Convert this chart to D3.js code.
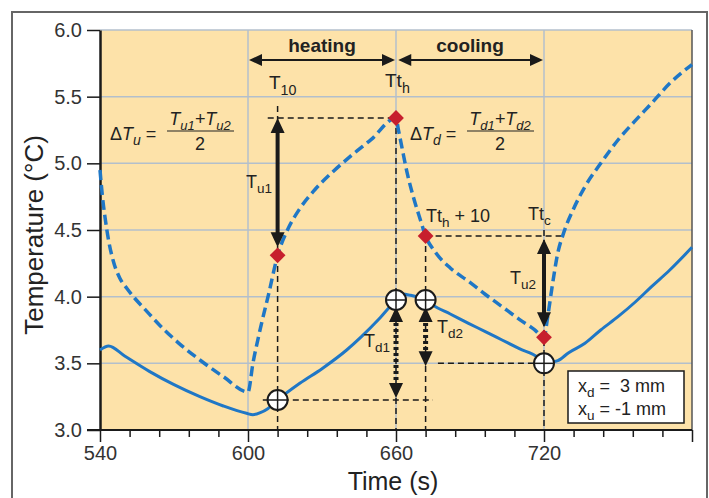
<!DOCTYPE html>
<html>
<head>
<meta charset="utf-8">
<script src="https://cdn.jsdelivr.net/npm/d3@7"></script>
<style>
  body { margin: 0; background: #fff; }
  svg { display: block; font-family: Arial, "Liberation Sans", Helvetica, sans-serif; }
</style>
</head>
<body>
<div id="chart"></div>
<script>
// axis values
const timeLabels = [540, 600, 660, 720];
const timeMajor = [540, 600, 660, 720, 780];
const tempTicks = [3.0, 3.5, 4.0, 4.5, 5.0, 5.5, 6.0];

// measured temperature (solid)
const solidTime = [540, 543.5, 550, 560, 570, 580.5, 590, 599.4, 602, 605, 608, 612, 621, 630, 640, 646, 653, 660, 662.5, 666, 672, 675, 682, 689.4, 696, 703, 710, 717.8, 720, 725.6, 730, 736.6, 743, 750, 757, 763.6, 771, 780];
const solidTemp = [3.6, 3.63, 3.555, 3.44, 3.34, 3.25, 3.18, 3.125, 3.115, 3.13, 3.16, 3.225, 3.35, 3.46, 3.6, 3.7, 3.83, 3.975, 4.02, 4.01, 3.975, 3.935, 3.87, 3.8, 3.74, 3.675, 3.61, 3.54, 3.5, 3.52, 3.58, 3.65, 3.75, 3.85, 3.96, 4.075, 4.2, 4.37];

// heater temperature (dashed)
const dashTime = [540, 541, 542, 543.5, 545.5, 548, 551, 554, 558, 564, 572, 580.5, 590, 600, 602, 605, 608.5, 612, 616, 621, 627, 634, 642, 650, 660, 661, 662.4, 664.5, 667, 670, 672, 675.7, 682, 689.4, 696, 703, 710, 716, 720, 721.5, 723.5, 725.5, 728, 732, 736.6, 743, 750, 757, 763.6, 771, 780];
const dashTemp = [4.95, 4.75, 4.6, 4.42, 4.26, 4.14, 4.06, 3.99, 3.91, 3.79, 3.65, 3.525, 3.4, 3.285, 3.5, 3.76, 4.03, 4.31, 4.5, 4.66, 4.8, 4.93, 5.06, 5.18, 5.34, 5.25, 5.12, 4.93, 4.75, 4.57, 4.455, 4.34, 4.215, 4.115, 4.02, 3.925, 3.83, 3.755, 3.695, 3.85, 4.1, 4.32, 4.48, 4.66, 4.825, 5.0, 5.175, 5.32, 5.45, 5.6, 5.74];

const diamondTime = [612, 660, 672, 720];
const diamondTemp = [4.31, 5.34, 4.455, 3.695];
const circleTime = [612, 660, 672, 720];
const circleTemp = [3.225, 3.975, 3.975, 3.5];

const width = 709, height = 498;
const blue = "#1f77c6";
const ink = "#1a1a1a";

const svg = d3.select("#chart").append("svg")
  .attr("width", width)
  .attr("height", height);

const x = d3.scaleLinear().domain([540, 780]).range([100, 692]);
const y = d3.scaleLinear().domain([3, 6]).range([430, 30]);

// outer frame
svg.append("rect")
  .attr("x", 12).attr("y", 12)
  .attr("width", 695).attr("height", 500)
  .attr("fill", "#fff")
  .attr("stroke", "#666").attr("stroke-width", 2);

// plot background
svg.append("rect")
  .attr("x", x(540)).attr("y", y(6))
  .attr("width", x(780) - x(540)).attr("height", y(3) - y(6))
  .attr("fill", "#fde2a9");

// grid
const grid = svg.append("g").attr("stroke", "#b3bfcc").attr("stroke-width", 1.5);
grid.selectAll("line.h")
  .data(tempTicks.filter(d => d > 3))
  .enter().append("line")
  .attr("x1", x(540)).attr("x2", x(780))
  .attr("y1", d => y(d)).attr("y2", d => y(d));
grid.selectAll("line.v")
  .data(timeLabels.filter(d => d > 540))
  .enter().append("line")
  .attr("x1", d => x(d)).attr("x2", d => x(d))
  .attr("y1", y(6)).attr("y2", y(3));

// right border of plot
svg.append("line")
  .attr("x1", x(780)).attr("x2", x(780))
  .attr("y1", y(6)).attr("y2", y(3))
  .attr("stroke", "#555").attr("stroke-width", 1.5);

// axes
const xAxis = svg.append("g")
  .attr("transform", `translate(0,${y(3)})`)
  .call(d3.axisBottom(x)
    .tickValues(d3.range(540, 781, 12))
    .tickSize(7)
    .tickSizeOuter(0)
    .tickFormat(d => timeLabels.includes(d) ? d : ""));
xAxis.selectAll(".tick line")
  .attr("y2", d => timeMajor.includes(d) ? 12 : 7)
  .attr("stroke", ink).attr("stroke-width", 1.5);
xAxis.selectAll(".tick text")
  .attr("y", 16)
  .attr("font-size", 20).attr("font-family", null).attr("fill", "#333");
xAxis.select(".domain").attr("stroke", ink).attr("stroke-width", 2)
  .attr("d", `M87,0H${x(780)}`);

const yAxis = svg.append("g")
  .attr("transform", `translate(${x(540)},0)`)
  .call(d3.axisLeft(y)
    .tickValues(tempTicks)
    .tickSize(13)
    .tickPadding(5)
    .tickSizeOuter(0)
    .tickFormat(d3.format(".1f")));
yAxis.selectAll(".tick line").attr("stroke", ink).attr("stroke-width", 1.5);
yAxis.selectAll(".tick text")
  .attr("font-size", 20).attr("font-family", null).attr("fill", "#333");
yAxis.select(".domain").attr("stroke", ink).attr("stroke-width", 2.5);

// axis titles
svg.append("text")
  .attr("x", x(660) - 3).attr("y", 490)
  .attr("text-anchor", "middle")
  .attr("font-size", 25).attr("fill", "#222")
  .text("Time (s)");
svg.append("text")
  .attr("transform", `translate(43,${y(4.5) + 5}) rotate(-90)`)
  .attr("text-anchor", "middle")
  .attr("font-size", 26).attr("fill", "#222")
  .text("Temperature (°C)");

// black dashed guide lines
const guides = [
  [612, 5.43, 612, 3.0],
  [660, 5.34, 660, 3.0],
  [672, 4.455, 672, 3.0],
  [720, 4.5, 720, 3.0],
  [608, 5.34, 660, 5.34],
  [672, 4.455, 727, 4.455],
  [677, 3.5, 720, 3.5],
  [606, 3.225, 675, 3.225]
];
svg.append("g").selectAll("line")
  .data(guides)
  .enter().append("line")
  .attr("x1", d => x(d[0])).attr("y1", d => y(d[1]))
  .attr("x2", d => x(d[2])).attr("y2", d => y(d[3]))
  .attr("stroke", ink).attr("stroke-width", 1.5)
  .attr("stroke-dasharray", "6,4");

// curves
const line = d3.line().curve(d3.curveMonotoneX);
svg.append("path")
  .attr("d", line(dashTime.map((t, i) => [x(t), y(dashTemp[i])])))
  .attr("fill", "none").attr("stroke", blue)
  .attr("stroke-width", 3.5).attr("stroke-dasharray", "10,5");
svg.append("path")
  .attr("d", line(solidTime.map((t, i) => [x(t), y(solidTemp[i])])))
  .attr("fill", "none").attr("stroke", blue)
  .attr("stroke-width", 3);

// arrow head with tip at (px,py), pointing in dir ("up","down","left","right")
function head(g, px, py, dir, w, l) {
  let pts;
  if (dir === "up") pts = [[px, py], [px - w / 2, py + l], [px + w / 2, py + l]];
  if (dir === "down") pts = [[px, py], [px - w / 2, py - l], [px + w / 2, py - l]];
  if (dir === "left") pts = [[px, py], [px + l, py - w / 2], [px + l, py + w / 2]];
  if (dir === "right") pts = [[px, py], [px - l, py - w / 2], [px - l, py + w / 2]];
  g.append("polygon").attr("points", pts.map(p => p.join(",")).join(" ")).attr("fill", ink);
}

function vArrow(t, top, bottom, dotted) {
  const g = svg.append("g");
  g.append("line")
    .attr("x1", x(t)).attr("x2", x(t))
    .attr("y1", top + 10).attr("y2", bottom - 10)
    .attr("stroke", ink).attr("stroke-width", dotted ? 5 : 4)
    .attr("stroke-dasharray", dotted ? "3,3" : null);
  head(g, x(t), top, "up", 14, 15);
  head(g, x(t), bottom, "down", 14, 15);
}

function hArrow(t0, t1, yy) {
  const g = svg.append("g");
  g.append("line")
    .attr("x1", x(t0) + 8).attr("x2", x(t1) - 8)
    .attr("y1", yy).attr("y2", yy)
    .attr("stroke", ink).attr("stroke-width", 2);
  head(g, x(t0) + 1, yy, "left", 12, 13);
  head(g, x(t1) - 1, yy, "right", 12, 13);
}

hArrow(600, 660, 60);
hArrow(660.5, 720, 60);
vArrow(612, y(5.34), y(4.31) - 8, false);
vArrow(720, y(4.455) + 3, y(3.695) - 10, false);
vArrow(660, y(3.975) + 7, y(3.225) - 2, true);
vArrow(672, y(3.975) + 7, y(3.5) + 3, true);

// diamonds
svg.append("g").selectAll("path")
  .data(diamondTime.map((t, i) => [t, diamondTemp[i]]))
  .enter().append("path")
  .attr("d", d3.symbol().type(d3.symbolSquare).size(125))
  .attr("transform", d => `translate(${x(d[0])},${y(d[1])}) rotate(45)`)
  .attr("fill", "#c71f2d");

// circled crosses
const marks = svg.append("g").selectAll("g")
  .data(circleTime.map((t, i) => [t, circleTemp[i]]))
  .enter().append("g")
  .attr("transform", d => `translate(${x(d[0])},${y(d[1])})`);
marks.append("circle").attr("r", 10)
  .attr("fill", "#fff").attr("stroke", ink).attr("stroke-width", 2);
marks.append("line").attr("x1", -10).attr("x2", 10)
  .attr("stroke", ink).attr("stroke-width", 1.5);
marks.append("line").attr("y1", -10).attr("y2", 10)
  .attr("stroke", ink).attr("stroke-width", 1.5);

// text with subscript
function label(px, py, base, sub, size, extra) {
  const t = svg.append("text")
    .attr("x", px).attr("y", py)
    .attr("font-size", size).attr("fill", "#222");
  t.append("tspan").text(base);
  t.append("tspan").attr("dy", size * 0.3).attr("font-size", size * 0.75).text(sub);
  if (extra) t.append("tspan").attr("dy", -size * 0.3).style("white-space", "pre").text(extra);
  return t;
}

svg.append("text").attr("x", 322).attr("y", 52)
  .attr("text-anchor", "middle").attr("font-size", 19).attr("font-weight", "bold")
  .attr("fill", "#222").text("heating");
svg.append("text").attr("x", 470).attr("y", 52)
  .attr("text-anchor", "middle").attr("font-size", 19).attr("font-weight", "bold")
  .attr("fill", "#222").text("cooling");

label(269, 89, "T", "10", 19);
label(385, 87, "Tt", "h", 19);
label(246, 188, "T", "u1", 18);
label(510, 284, "T", "u2", 18);
label(364, 347, "T", "d1", 18);
label(437, 333, "T", "d2", 18);
label(426, 222, "Tt", "h", 18, " + 10");
label(528, 220, "Tt", "c", 18);

// delta T formulas
function formula(px, sub, n1, n2) {
  const t = svg.append("text").attr("x", px).attr("y", 140)
    .attr("font-size", 18).attr("fill", "#222");
  t.append("tspan").text("Δ");
  t.append("tspan").attr("font-style", "italic").text("T");
  t.append("tspan").attr("font-style", "italic").attr("font-size", 14).attr("dy", 5).text(sub);
  t.append("tspan").attr("dy", -5).style("white-space", "pre").text(" = ");
  const cx = px + 90;
  const num = svg.append("text").attr("x", cx).attr("y", 125)
    .attr("text-anchor", "middle").attr("font-size", 18).attr("font-style", "italic").attr("fill", "#222");
  num.append("tspan").text("T");
  num.append("tspan").attr("font-size", 13).attr("dy", 5).text(n1);
  num.append("tspan").attr("dy", -5).text("+T");
  num.append("tspan").attr("font-size", 13).attr("dy", 5).text(n2);
  svg.append("line").attr("x1", cx - 33).attr("x2", cx + 34)
    .attr("y1", 131).attr("y2", 131).attr("stroke", "#222").attr("stroke-width", 1.2);
  svg.append("text").attr("x", cx).attr("y", 150)
    .attr("text-anchor", "middle").attr("font-size", 18).attr("fill", "#222").text("2");
}
formula(110, "u", "u1", "u2");
formula(410, "d", "d1", "d2");

// legend box
svg.append("rect")
  .attr("x", 568).attr("y", 371).attr("width", 116).attr("height", 52)
  .attr("fill", "#fff").attr("stroke", ink).attr("stroke-width", 1.5);
label(578, 392, "x", "d", 18, " =  3 mm");
label(578, 415, "x", "u", 18, " = -1 mm");
</script>
</body>
</html>
